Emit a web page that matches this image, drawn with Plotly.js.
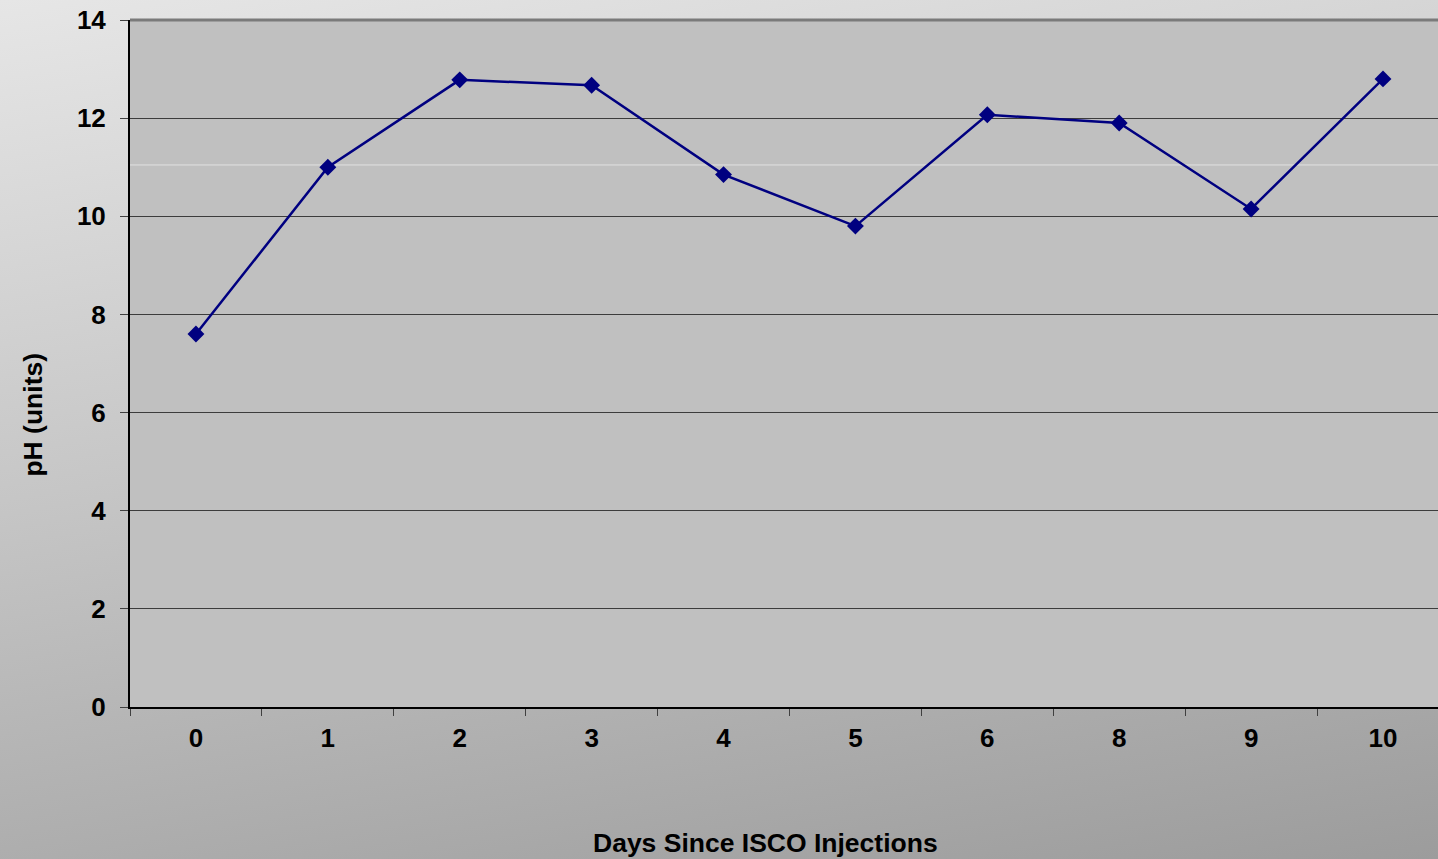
<!DOCTYPE html>
<html>
<head>
<meta charset="utf-8">
<script src="https://cdn.plot.ly/plotly-3.0.1.min.js"></script>
<style>
html,body{margin:0;padding:0;overflow:hidden;}
#chart{width:1438px;height:859px;background:linear-gradient(170deg,#e6e6e6 0%,#c6c6c6 45%,#9c9c9c 100%);}
</style>
</head>
<body>
<div id="chart"></div>
<script>
const days = ["0","1","2","3","4","5","6","8","9","10"];
const phValues = [7.6, 11.0, 12.78, 12.67, 10.85, 9.8, 12.07, 11.9, 10.15, 12.8];
const yTicks = [0, 2, 4, 6, 8, 10, 12, 14];
const xTitle = "Days Since ISCO Injections";
const yTitle = "pH (units)";

const fontFam = "'Liberation Sans', Arial, sans-serif";

const trace = {
  x: days,
  y: phValues,
  type: "scatter",
  mode: "lines+markers",
  line: {color: "#000080", width: 2.5},
  marker: {symbol: "diamond", size: 13, color: "#000080"},
  hoverinfo: "x+y"
};

const layout = {
  width: 1438,
  height: 859,
  margin: {l: 130, r: 0, t: 20, b: 152},
  paper_bgcolor: "rgba(0,0,0,0)",
  plot_bgcolor: "#c0c0c0",
  showlegend: false,
  font: {family: fontFam, color: "#000", size: 26},
  xaxis: {
    type: "category",
    range: [-0.5, 9.417],
    tickson: "boundaries",
    ticks: "outside",
    ticklen: 7,
    tickcolor: "#404040",
    tickwidth: 1,
    showline: true,
    linecolor: "#000",
    linewidth: 2,
    showgrid: false,
    zeroline: false,
    tickfont: {family: fontFam, size: 26, color: "#000", weight: "bold"},
    ticklabelstandoff: 7,
    fixedrange: true
  },
  yaxis: {
    range: [0, 14],
    tickvals: yTicks,
    ticktext: yTicks.map(String),
    ticks: "outside",
    ticklen: 8,
    tickcolor: "#404040",
    tickwidth: 1,
    showline: true,
    linecolor: "#000",
    linewidth: 2,
    showgrid: true,
    gridcolor: "#3c3c3c",
    gridwidth: 1,
    zeroline: false,
    tickfont: {family: fontFam, size: 26, color: "#000", weight: "bold"},
    ticklabelstandoff: 9,
    fixedrange: true
  },
  shapes: [
    {type: "line", xref: "paper", yref: "paper", x0: 0, x1: 1, y0: 1, y1: 1,
     line: {color: "#7a7a7a", width: 3}, layer: "above"},
    {type: "line", xref: "paper", yref: "paper", x0: 0, x1: 1, y0: 0.789, y1: 0.789,
     line: {color: "rgba(235,235,235,0.8)", width: 1}, layer: "below"}
  ],
  annotations: [
    {text: "<b>" + xTitle + "</b>", xref: "paper", yref: "paper", x: 0.4855, y: -0.198,
     xanchor: "center", yanchor: "middle", showarrow: false,
     font: {family: fontFam, size: 26.5, color: "#000"}},
    {text: "<b>" + yTitle + "</b>", xref: "paper", yref: "paper", x: -0.0745, y: 0.425,
     xanchor: "center", yanchor: "middle", showarrow: false, textangle: -90,
     font: {family: fontFam, size: 26.5, color: "#000"}}
  ]
};

Plotly.newPlot("chart", [trace], layout, {displayModeBar: false, staticPlot: true});
</script>
</body>
</html>
